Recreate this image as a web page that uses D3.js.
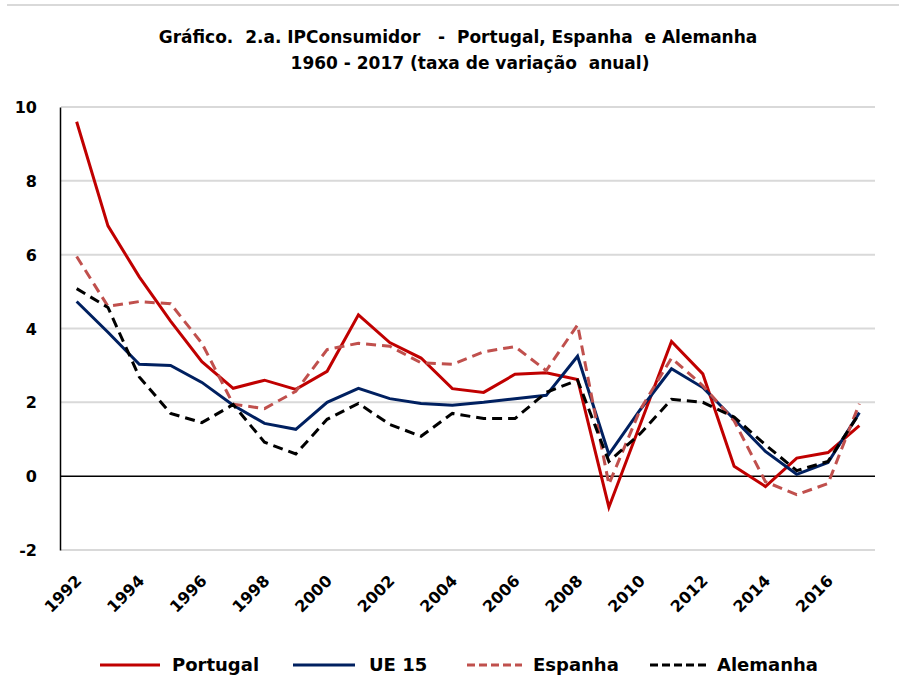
<!DOCTYPE html>
<html>
<head>
<meta charset="utf-8">
<script src="https://cdn.jsdelivr.net/npm/d3@7"></script>
<style>
  body { margin: 0; background: #fff; }
  text { font-family: "DejaVu Sans", Verdana, sans-serif; font-weight: bold; fill: #000; white-space: pre; }
</style>
</head>
<body>
<svg id="chart"></svg>
<script>
const width = 899, height = 686;

// data
const years = d3.range(1992, 2018);
const portugal = [9.6, 6.78, 5.4, 4.2, 3.1, 2.38, 2.6, 2.35, 2.84, 4.37, 3.62, 3.2, 2.37, 2.27, 2.76, 2.8, 2.62, -0.84, 1.4, 3.65, 2.77, 0.27, -0.28, 0.49, 0.64, 1.37];
const ue15 = [4.73, 3.9, 3.03, 3.0, 2.54, 1.92, 1.43, 1.27, 2.0, 2.38, 2.1, 1.97, 1.92, 2.0, 2.1, 2.19, 3.25, 0.59, 1.8, 2.91, 2.4, 1.54, 0.67, 0.05, 0.37, 1.72];
const espanha = [5.95, 4.6, 4.73, 4.67, 3.6, 1.95, 1.83, 2.3, 3.43, 3.6, 3.52, 3.07, 3.03, 3.37, 3.51, 2.86, 4.1, -0.22, 1.8, 3.2, 2.45, 1.5, -0.15, -0.5, -0.2, 1.96];
const alemanha = [5.08, 4.57, 2.69, 1.7, 1.45, 1.94, 0.92, 0.6, 1.54, 1.97, 1.4, 1.08, 1.7, 1.56, 1.56, 2.27, 2.6, 0.4, 1.15, 2.08, 2.0, 1.6, 0.85, 0.15, 0.4, 1.7];
const yTicks = [-2, 0, 2, 4, 6, 8, 10];
const xTickYears = d3.range(1992, 2018, 2);

const series = [
  { name: "Portugal", values: portugal, color: "#c00000", dash: null },
  { name: "UE 15", values: ue15, color: "#002060", dash: null },
  { name: "Espanha", values: espanha, color: "#c0504d", dash: "10,6" },
  { name: "Alemanha", values: alemanha, color: "#000000", dash: "10,6" }
];

const svg = d3.select("#chart")
  .attr("width", width)
  .attr("height", height);

// thin border line at the top
svg.append("line")
  .attr("x1", 7).attr("x2", width)
  .attr("y1", 5).attr("y2", 5)
  .attr("stroke", "#d9d9d9").attr("stroke-width", 2);

// title
svg.append("text")
  .attr("x", 458).attr("y", 43)
  .attr("text-anchor", "middle")
  .style("font-size", "17px")
  .text("Gráfico.  2.a. IPConsumidor   -  Portugal, Espanha  e Alemanha");
svg.append("text")
  .attr("x", 470).attr("y", 69)
  .attr("text-anchor", "middle")
  .style("font-size", "17px")
  .text("1960 - 2017 (taxa de variação  anual)");

// scales
const plotLeft = 61, plotRight = 875;
const xScale = d3.scaleBand().domain(years).range([plotLeft, plotRight]);
const yScale = d3.scaleLinear().domain([-2, 10]).range([550, 107]);
const xc = yr => xScale(yr) + xScale.bandwidth() / 2;

// grid lines
svg.append("g").selectAll("line")
  .data(yTicks.filter(d => d !== 0))
  .join("line")
  .attr("x1", plotLeft).attr("x2", plotRight)
  .attr("y1", d => yScale(d)).attr("y2", d => yScale(d))
  .attr("stroke", "#d9d9d9").attr("stroke-width", 2);

// y axis
const yAxis = svg.append("g")
  .attr("transform", "translate(" + (plotLeft - 1) + ",0)")
  .call(d3.axisLeft(yScale).tickValues(yTicks).tickFormat(d => String(d)).tickSize(0).tickPadding(23));
yAxis.select(".domain").attr("stroke", "#000").attr("stroke-width", 1.5);
yAxis.selectAll("text")
  .style("font-size", "16px")
  .style("font-family", "'DejaVu Sans', sans-serif")
  .style("font-weight", "bold")
  .attr("dy", "0.35em");

// zero line
svg.append("line")
  .attr("x1", plotLeft).attr("x2", plotRight)
  .attr("y1", yScale(0)).attr("y2", yScale(0))
  .attr("stroke", "#000").attr("stroke-width", 1.5);

// x tick labels, rotated
svg.append("g").selectAll("text")
  .data(xTickYears)
  .join("text")
  .attr("transform", d => "translate(" + (xc(d) + 6) + ",582) rotate(-45)")
  .attr("text-anchor", "end")
  .style("font-size", "16px")
  .text(d => d);

// lines
const line = d3.line()
  .x((d, i) => xc(years[i]))
  .y(d => yScale(d));

series.forEach(s => {
  svg.append("path")
    .datum(s.values)
    .attr("fill", "none")
    .attr("stroke", s.color)
    .attr("stroke-width", 3)
    .attr("stroke-dasharray", s.dash)
    .attr("d", line);
});

// legend
const legendPos = [
  { x1: 100, x2: 160, tx: 172 },
  { x1: 293, x2: 355, tx: 369 },
  { x1: 467, x2: 522, tx: 533 },
  { x1: 650, x2: 706, tx: 717 }
];
const legendY = 665;
series.forEach((s, i) => {
  const p = legendPos[i];
  svg.append("line")
    .attr("x1", p.x1).attr("x2", p.x2)
    .attr("y1", legendY).attr("y2", legendY)
    .attr("stroke", s.color)
    .attr("stroke-width", 3)
    .attr("stroke-dasharray", s.dash ? "8,4" : null);
  svg.append("text")
    .attr("x", p.tx).attr("y", legendY + 6)
    .style("font-size", "18px")
    .text(s.name);
});
</script>
</body>
</html>
